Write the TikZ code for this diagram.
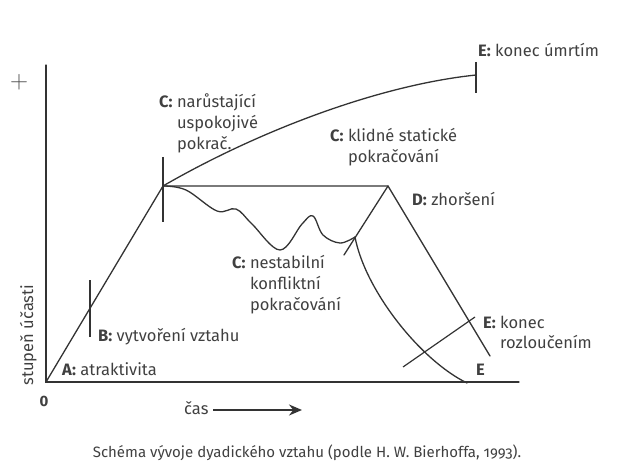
\documentclass[tikz,border=0pt]{standalone}
\usepackage{fontspec}
\setmainfont{Fira Sans}
\newfontfamily\thinfont{Latin Modern Roman}
\usetikzlibrary{arrows.meta, positioning}
\newcommand{\keylbl}[1]{{\bfseries #1}}

\begin{document}
\begin{tikzpicture}[x=1pt, y=-1pt]
% Styles for text and lines
\tikzstyle{txt} = [inner sep=0pt, text=black!75, font=\fontsize{16.5}{21}\selectfont, align=left]
\tikzstyle{curve} = [line width=1.3pt, draw=black!80, line cap=round]
\tikzstyle{marker} = [line width=1.2pt, draw=black!80]
\tikzstyle{arrow} = [line width=1.6pt, draw=black!80, -{Stealth[length=13pt, width=11pt]}]
\useasboundingbox (0,0) rectangle (624,476);

% Key points of the chart
\coordinate (origin) at (46,382);
\coordinate (ytop) at (46,65);
\coordinate (xend) at (519,382);
\coordinate (peak) at (163,186);
\coordinate (death) at (476,75);
\coordinate (worse) at (388,186);
\coordinate (worse_end) at (490,356);
\coordinate (worse_left) at (344,255);
\coordinate (wave_top) at (355,237);
\coordinate (split_end) at (467,383);

% Axes
\draw [curve] (ytop) -- (origin) -- (xend);

% Curves
\draw [curve] (origin) -- (peak);
\draw [curve] (peak) .. controls (260,130) and (380,85) .. (death);
\draw [curve] (peak) -- (worse) -- (worse_end);
\draw [curve] (worse) -- (worse_left);
\draw [curve] plot[smooth, tension=0.6] coordinates {(163,186) (186,190) (217,211) (236,209) (252,224) (280,250) (302,224) (313,216) (323,235) (340,243) (355,237)};
\draw [curve] (wave_top) .. controls (365,290) and (420,360) .. (split_end);

% Markers
\draw [marker] (163,157) coordinate (t1a) -- (163,222) coordinate (t1b);
\draw [marker] (90,280) coordinate (t2a) -- (90,337) coordinate (t2b);
\draw [marker] (476,62) coordinate (t3a) -- (476,93) coordinate (t3b);
\draw [marker] (403,367) coordinate (t4a) -- (475,317) coordinate (t4b);

% Labels
\node (plus) [txt, text=black!70, font=\fontsize{25}{25}\selectfont\thinfont] at (19,82) {+};
\node (zero) [txt, font=\fontsize{15}{15}\selectfont\bfseries, anchor=base] at (44,406) {0};
\node (lbl_death) [txt, anchor=base west] at (478,57) {\keylbl{E:}\ konec úmrtím};
\node (lbl_grow) [txt, anchor=base west] at (159,108) {\keylbl{C:}\ \begin{tabular}[t]{@{}l@{}}narůstající\\uspokojivé\\pokrač.\end{tabular}};
\node (lbl_static) [txt, anchor=base west] at (330,142) {\keylbl{C:}\ \begin{tabular}[t]{@{}l@{}}klidné statické\\pokračování\end{tabular}};
\node (lbl_worse) [txt, anchor=base west] at (412,205) {\keylbl{D:}\ zhoršení};
\node (lbl_unstable) [txt, anchor=base west] at (232,268) {\keylbl{C:}\ \begin{tabular}[t]{@{}l@{}}nestabilní\\konfliktní\\pokračování\end{tabular}};
\node (lbl_build) [txt, anchor=base west] at (98,341) {\keylbl{B:}\ vytvoření vztahu};
\node (lbl_attr) [txt, anchor=base west] at (62,375) {\keylbl{A:}\ atraktivita};
\node (lbl_split) [txt, anchor=base west, font=\fontsize{16.5}{20}\selectfont] at (483,328) {\keylbl{E:}\ \begin{tabular}[t]{@{}l@{}}konec\\rozloučením\end{tabular}};
\node (lbl_end) [txt, anchor=base west] at (476,375) {\keylbl{E}};
\node (lbl_y) [txt, rotate=90, anchor=base] at (33,335) {stupeň účasti};
\node (lbl_x) [txt, anchor=base west] at (184,414) {čas};
\coordinate (time_start) at (213,410);
\coordinate (time_end) at (302,410);
\draw [arrow] (time_start) -- (time_end);

% Caption
\node (caption) [txt, font=\fontsize{15}{15}\selectfont\addfontfeatures{Numbers=OldStyle}, anchor=base] at (307,457) {Schéma vývoje dyadického vztahu (podle H. W. Bierhoffa, 1993).};
\end{tikzpicture}
\end{document}
